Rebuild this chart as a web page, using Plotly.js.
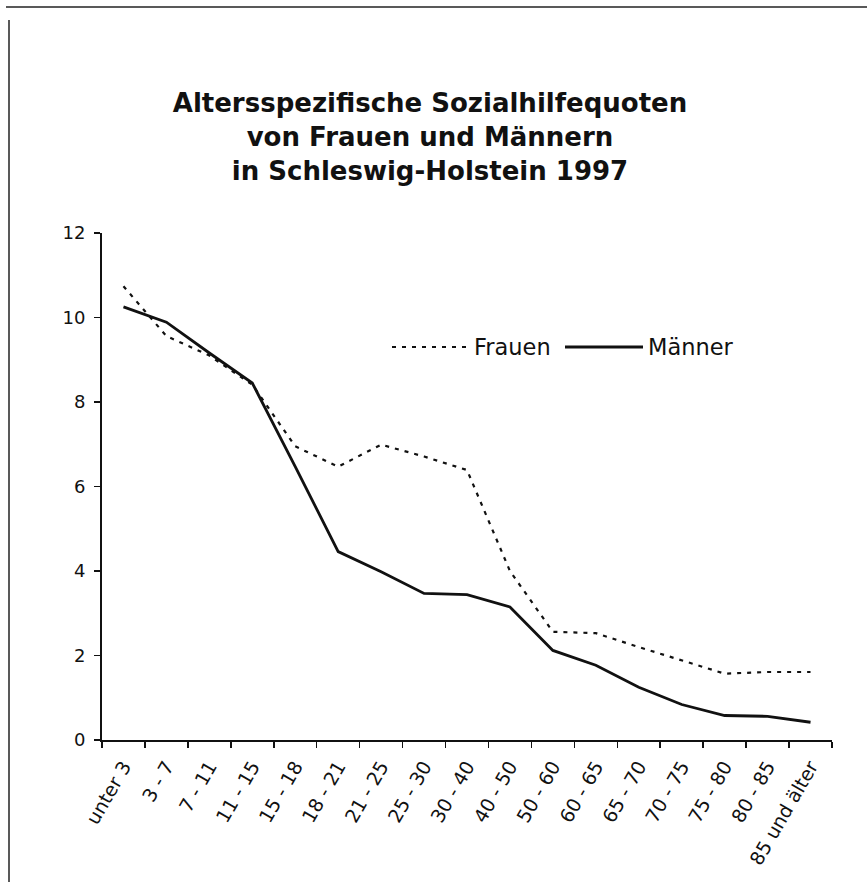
<!DOCTYPE html>
<html>
<head>
<meta charset="utf-8">
<script src="https://cdn.plot.ly/plotly-3.0.1.min.js"></script>
<style>
  html, body { margin: 0; padding: 0; background: #ffffff; }
  #chart { width: 867px; height: 882px; }
</style>
</head>
<body>
<div id="chart"></div>
<script>
// Altersgruppen (categories)
var altersgruppen = ["unter 3", "3 - 7", "7 - 11", "11 - 15", "15 - 18", "18 - 21", "21 - 25",
  "25 - 30", "30 - 40", "40 - 50", "50 - 60", "60 - 65", "65 - 70", "70 - 75",
  "75 - 80", "80 - 85", "85 und älter"];
// Sozialhilfequoten (%)
var frauen = [10.74, 9.56, 9.10, 8.41, 6.95, 6.47, 6.99, 6.71, 6.39, 4.00, 2.56, 2.53, 2.20, 1.89, 1.57, 1.61, 1.61];
var maenner = [10.25, 9.89, 9.16, 8.45, 6.47, 4.46, 3.98, 3.47, 3.44, 3.15, 2.12, 1.77, 1.25, 0.84, 0.58, 0.56, 0.42];
var yTicks = [0, 2, 4, 6, 8, 10, 12];
var serienNamen = ["Frauen", "Männer"];

var W = 867, H = 882;
var M = {l: 102, r: 35, t: 233, b: 142};
function px(x) { return (x - M.l) / (W - M.l - M.r); }
function py(y) { return 1 - (y - M.t) / (H - M.t - M.b); }

var FONT = "DejaVu Sans, Liberation Sans, Arial, sans-serif";
var DOTS = "4px,6px";

var traces = [
  {x: altersgruppen, y: frauen, type: "scatter", mode: "lines", name: serienNamen[0],
   line: {color: "#111111", width: 2.2, dash: DOTS}, showlegend: false},
  {x: altersgruppen, y: maenner, type: "scatter", mode: "lines", name: serienNamen[1],
   line: {color: "#111111", width: 2.8}, showlegend: false}
];

var layout = {
  width: W, height: H,
  margin: M,
  paper_bgcolor: "#ffffff", plot_bgcolor: "#ffffff",
  font: {family: FONT, color: "#111111"},
  title: {
    text: "<b>Altersspezifische Sozialhilfequoten<br>von Frauen und Männern<br>in Schleswig-Holstein 1997</b>",
    font: {family: FONT, size: 26, color: "#111111"},
    x: 430 / W, xanchor: "center", xref: "container",
    y: 1 - 112 / H, yanchor: "top", yref: "container"
  },
  xaxis: {
    type: "category",
    range: [-0.5, altersgruppen.length - 0.5],
    showline: true, linecolor: "#111111", linewidth: 2,
    ticks: "outside", tickson: "boundaries", ticklen: 6, tickwidth: 1.5, tickcolor: "#111111",
    tickangle: -60,
    tickfont: {family: FONT, size: 19, color: "#111111"},
    ticklabelstandoff: 6,
    showgrid: false, zeroline: false, fixedrange: true
  },
  yaxis: {
    range: [0, 12],
    tickvals: yTicks,
    showline: true, linecolor: "#111111", linewidth: 2,
    ticks: "outside", ticklen: 6, tickwidth: 1.5, tickcolor: "#111111",
    tickfont: {family: FONT, size: 18, color: "#111111"},
    ticklabelstandoff: 5,
    showgrid: false, zeroline: false, fixedrange: true
  },
  shapes: [
    // Rahmen (scan frame)
    {type: "line", xref: "paper", yref: "paper", x0: px(6), x1: px(867), y0: py(7), y1: py(7),
     line: {color: "#222222", width: 1.5}},
    {type: "line", xref: "paper", yref: "paper", x0: px(9), x1: px(9), y0: py(20), y1: py(882),
     line: {color: "#222222", width: 1.5}},
    // Legende
    {type: "line", xref: "paper", yref: "paper", x0: px(392), x1: px(468), y0: py(347), y1: py(347),
     line: {color: "#111111", width: 2.2, dash: DOTS}},
    {type: "line", xref: "paper", yref: "paper", x0: px(565), x1: px(643), y0: py(347), y1: py(347),
     line: {color: "#111111", width: 2.8}}
  ],
  annotations: [
    {text: serienNamen[0], xref: "paper", yref: "paper", x: px(472), y: py(347),
     xanchor: "left", yanchor: "middle", showarrow: false,
     font: {family: FONT, size: 22.5, color: "#111111"}},
    {text: serienNamen[1], xref: "paper", yref: "paper", x: px(646), y: py(347),
     xanchor: "left", yanchor: "middle", showarrow: false,
     font: {family: FONT, size: 22.5, color: "#111111"}}
  ],
  showlegend: false
};

Plotly.newPlot("chart", traces, layout, {displayModeBar: false, staticPlot: true});
</script>
</body>
</html>
